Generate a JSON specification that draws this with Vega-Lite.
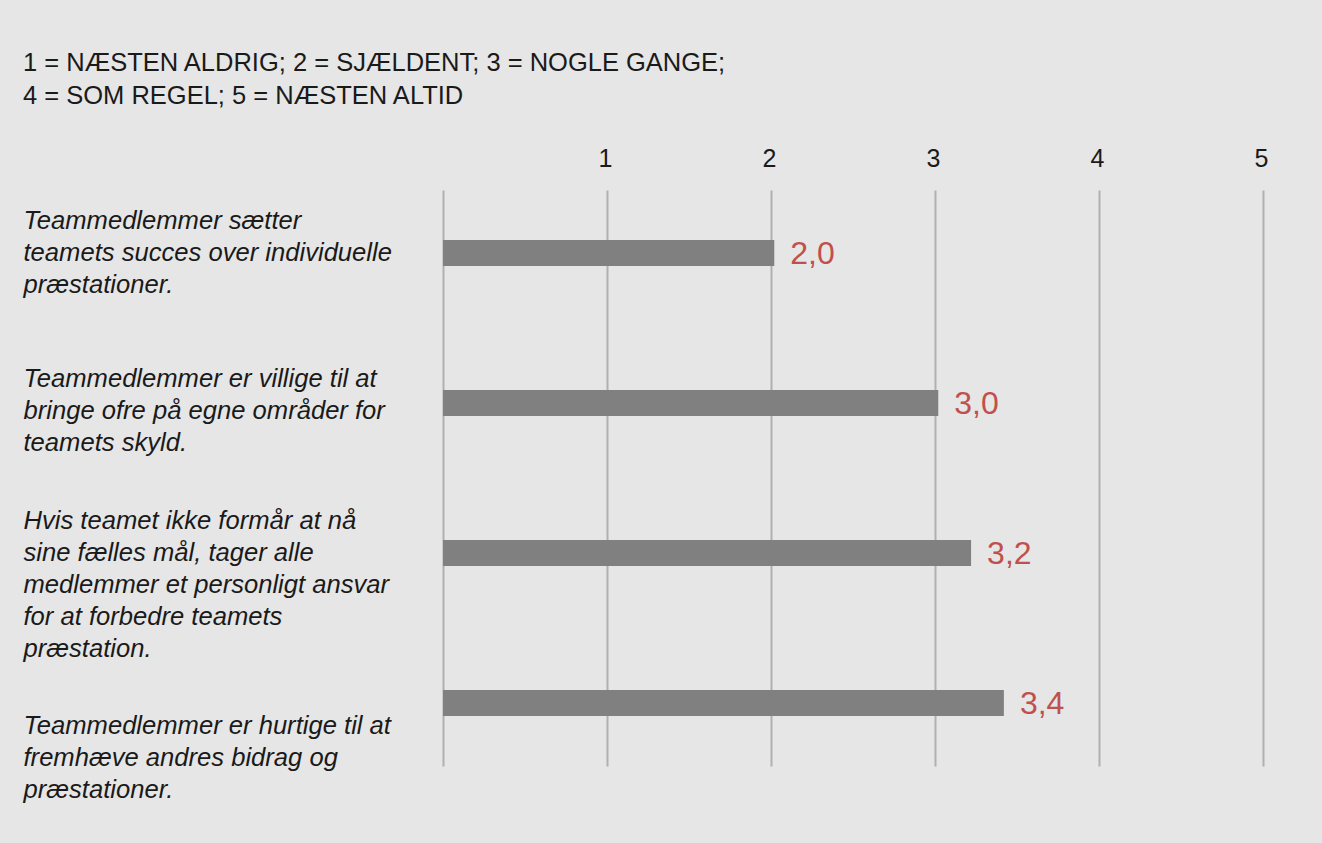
{
  "$schema": "https://vega.github.io/schema/vega-lite/v6.json",
  "width": 820,
  "height": 576,
  "autosize": {"type": "none"},
  "padding": {"left": 443, "top": 190, "right": 59, "bottom": 77},
  "background": "#e6e6e6",
  "title": {
    "text": ["1 = NÆSTEN ALDRIG; 2 = SJÆLDENT; 3 = NOGLE GANGE;", "4 = SOM REGEL; 5 = NÆSTEN ALTID"],
    "anchor": "start",
    "frame": "group",
    "dx": -420,
    "offset": 37,
    "font": "Liberation Sans",
    "fontSize": 25.5,
    "fontWeight": "normal",
    "color": "#1a1a1a",
    "lineHeight": 33
  },
  "data": {
    "values": [
      {"statement": "Teammedlemmer sætter\nteamets succes over individuelle\npræstationer.", "score": 2.02},
      {"statement": "Teammedlemmer er villige til at\nbringe ofre på egne områder for\nteamets skyld.", "score": 3.02},
      {"statement": "Hvis teamet ikke formår at nå\nsine fælles mål, tager alle\nmedlemmer et personligt ansvar\nfor at forbedre teamets\npræstation.", "score": 3.22},
      {"statement": "Teammedlemmer er hurtige til at\nfremhæve andres bidrag og\npræstationer.", "score": 3.42}
    ]
  },
  "encoding": {
    "y": {
      "field": "statement",
      "type": "nominal",
      "sort": null,
      "scale": {"paddingInner": 0.8267, "paddingOuter": 0.3333},
      "axis": {
        "title": null,
        "orient": "left",
        "domain": false,
        "ticks": false,
        "grid": false,
        "labelAlign": "left",
        "labelBaseline": "middle",
        "labelPadding": 420,
        "labelLimit": 0,
        "labelFont": "Liberation Sans",
        "labelFontStyle": "italic",
        "labelFontSize": 25.6,
        "labelLineHeight": 32,
        "labelColor": "#1a1a1a",
        "labelExpr": "split(datum.label, '\\n')",
        "labelOffset": {
          "condition": [
            {"test": "indexof(datum.value, 'Teammedlemmer er hurtige') == 0", "value": 23},
            {"test": "indexof(datum.value, 'Teammedlemmer er villige') == 0", "value": -24}
          ],
          "value": -32
        }
      }
    },
    "x": {
      "field": "score",
      "type": "quantitative",
      "scale": {"domain": [0, 5], "nice": false, "zero": true},
      "axis": {
        "title": null,
        "orient": "top",
        "values": [0, 1, 2, 3, 4, 5],
        "labelExpr": "datum.value == 0 ? '' : datum.label",
        "labelFlush": false,
        "domain": false,
        "ticks": false,
        "grid": true,
        "gridColor": "#b0b0b0",
        "gridWidth": 2,
        "labelFont": "Liberation Sans",
        "labelFontSize": 25,
        "labelColor": "#1a1a1a",
        "labelBaseline": "middle",
        "labelPadding": 32,
        "labelOffset": -2
      }
    }
  },
  "layer": [
    {"mark": {"type": "bar", "color": "#808080"}},
    {
      "mark": {"type": "text", "align": "left", "baseline": "middle", "dx": 16, "dy": 1, "font": "Liberation Sans", "fontSize": 32, "color": "#c0504d"},
      "encoding": {"text": {"field": "score", "type": "quantitative", "format": ".1f"}}
    }
  ],
  "config": {
    "view": {"stroke": null},
    "locale": {"number": {"decimal": ",", "thousands": ".", "grouping": [3], "currency": ["", " kr."]}}
  }
}
